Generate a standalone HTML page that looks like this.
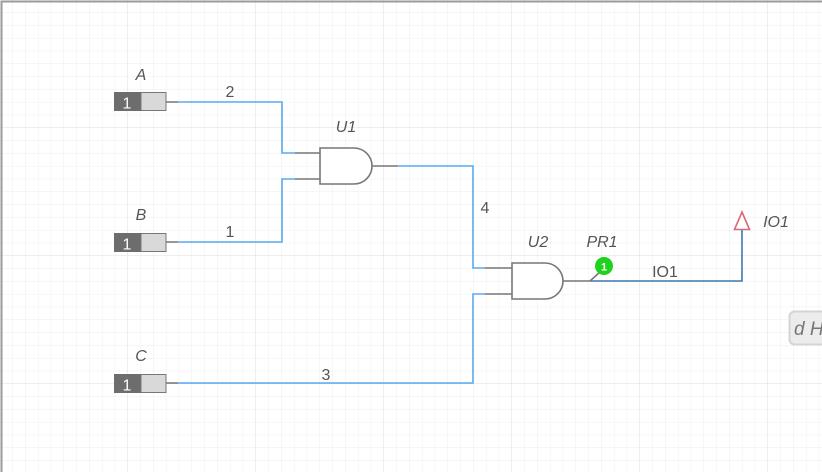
<!DOCTYPE html>
<html><head><meta charset="utf-8"><style>
html,body{margin:0;padding:0;background:#fff;}
svg{display:block;font-family:"Liberation Sans",sans-serif;}
</style></head><body>
<svg width="822" height="472" viewBox="0 0 822 472">
<defs>
<pattern id="minor" width="12.8" height="12.8" patternUnits="userSpaceOnUse"><path d="M12.8 0V12.8H0" fill="none" stroke="#eeeeee" stroke-width="1"/></pattern>
<pattern id="major" width="128" height="128" patternUnits="userSpaceOnUse"><rect width="128" height="128" fill="url(#minor)"/><path d="M128 0V128H0" fill="none" stroke="#dedede" stroke-width="1"/></pattern>
</defs>
<rect width="822" height="472" fill="url(#major)"/>
<path d="M1.5 472V1.5H822" fill="none" stroke="#9a9a9a" stroke-width="2"/>

<g fill="none" stroke-width="1.6">
<path d="M178 102H282V153H295" stroke="#5aaaf0"/>
<path d="M178 242H282V179H295" stroke="#5aaaf0"/>
<path d="M398 166H473V268H485" stroke="#5aaaf0"/>
<path d="M178 383H473V294H485" stroke="#5aaaf0"/>
<path d="M590 281H742V230" stroke="#3b78b5"/>
<g stroke="#777">
<path d="M166 102H178M166 242H178M166 383H178M295 153H320M295 179H320M372 166H398M485 268H512M485 294H512M563 281H590M590 281L600 272"/>
</g>
</g>

<g>
<rect x="114" y="92" width="27" height="19" fill="#6d6d6d"/><rect x="141" y="92.5" width="25" height="18" fill="#d9d9d9" stroke="#777"/>
<text x="127" y="108.5" fill="#fff" font-size="16" text-anchor="middle">1</text>
<text x="141" y="80" fill="#555" font-size="16" font-style="italic" text-anchor="middle">A</text></g>
<g>
<rect x="114" y="233" width="27" height="19" fill="#6d6d6d"/><rect x="141" y="233.5" width="25" height="18" fill="#d9d9d9" stroke="#777"/>
<text x="127" y="249.5" fill="#fff" font-size="16" text-anchor="middle">1</text>
<text x="141" y="220" fill="#555" font-size="16" font-style="italic" text-anchor="middle">B</text></g>
<g>
<rect x="114" y="374" width="27" height="19" fill="#6d6d6d"/><rect x="141" y="374.5" width="25" height="18" fill="#d9d9d9" stroke="#777"/>
<text x="127" y="390.5" fill="#fff" font-size="16" text-anchor="middle">1</text>
<text x="141" y="361" fill="#555" font-size="16" font-style="italic" text-anchor="middle">C</text></g>

<g>
<path d="M320 148H354A18 18 0 0 1 354 184H320Z" fill="#fff" stroke="#777" stroke-width="1.6"/>
<text x="346" y="132" fill="#555" font-size="16" font-style="italic" text-anchor="middle">U1</text></g>
<g>
<path d="M512 263H545A18 18 0 0 1 545 299H512Z" fill="#fff" stroke="#777" stroke-width="1.6"/>
<text x="538" y="247" fill="#555" font-size="16" font-style="italic" text-anchor="middle">U2</text></g>

<g>
<circle cx="604" cy="266" r="9" fill="#1ed21e"/>
<text x="604" y="270.5" fill="#fff" font-size="11" font-weight="bold" text-anchor="middle">1</text>
<text x="602" y="247" fill="#555" font-size="16" font-style="italic" text-anchor="middle">PR1</text></g>

<g>
<path d="M742 212L749.5 229.5H734.5Z" fill="#fff" stroke="#d96a7a" stroke-width="1.6"/>
<text x="776" y="227" fill="#555" font-size="16" font-style="italic" text-anchor="middle">IO1</text></g>

<g fill="#555" font-size="16" text-anchor="middle">
<text x="230" y="97">2</text><text x="230" y="237">1</text><text x="485" y="213">4</text><text x="326" y="380">3</text><text x="665" y="277">IO1</text>
</g>

<g>
<rect x="789.5" y="311.5" width="45" height="33" rx="5" fill="#ececec" stroke="#d4d4d4" stroke-width="2"/>
<text x="794" y="335" fill="#777" font-size="19" font-style="italic">d H</text></g>
</svg>
</body></html>
